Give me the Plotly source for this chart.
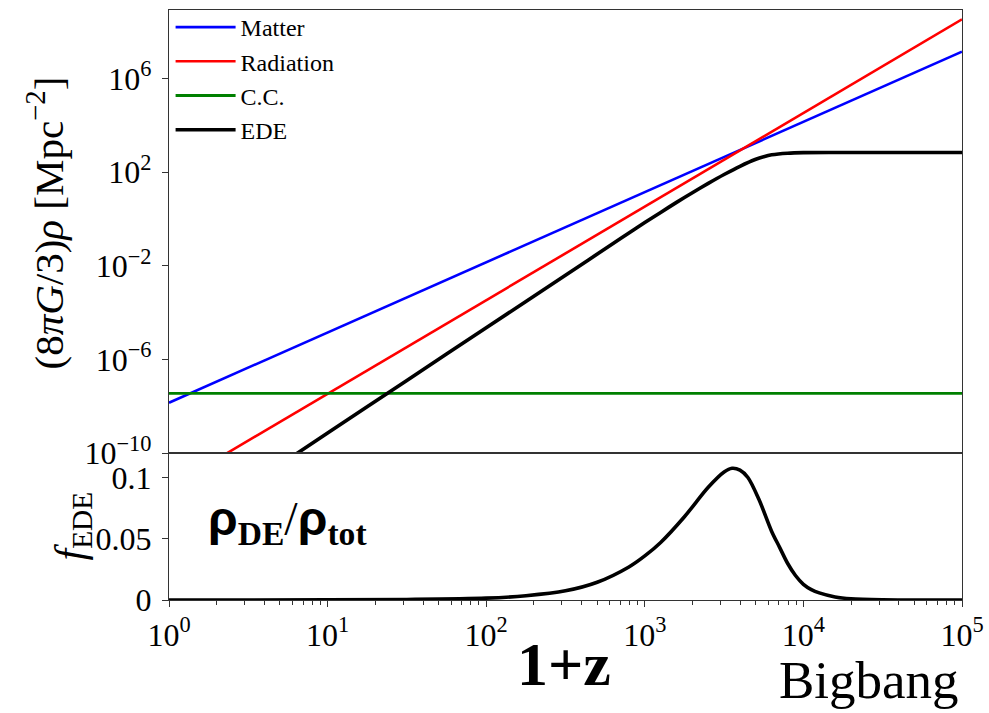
import plotly.graph_objects as go
from plotly.subplots import make_subplots

# ---- data -------------------------------------------------------------
# background densities (8πG/3)ρ in Mpc^-2 versus 1+z (power laws are straight on log-log axes)
z_ends = [1.0, 1.0e5]
matter_rho = [1.41e-8, 1.41e7]
radiation_rho = [3.39e-12, 3.39e8]
cc_rho = [3.55e-8, 3.55e-8]

# early dark energy density
ede_z = [5.01, 10.0, 31.6, 100.0, 316, 631, 794, 1000, 1259, 1585, 1995, 2512, 3162,
         3981, 5012, 5623, 6310, 7943, 10000, 19953, 100000]
ede_rho = [3.16e-11, 7.08e-10, 1.26e-7, 2.24e-5, 3.98e-3, 0.0891, 0.251, 0.708, 1.905,
           5.13, 13.2, 33.1, 79.4, 178, 355, 457, 550, 646, 684, 692, 692]

# fractional contribution f_EDE = ρ_DE / ρ_tot
f_z = [1.0, 10.0, 31.6, 100.0, 178, 316, 501, 794, 1000, 1259, 1778, 2512, 3162, 3548,
       3981, 4467, 5248, 6310, 7079, 7943, 8913, 10000, 11220, 12589, 15849, 19953,
       31623, 100000]
f_ede = [0.0, 0.0001, 0.0004, 0.0015, 0.0035, 0.0075, 0.0145, 0.027, 0.036, 0.047,
         0.068, 0.092, 0.1045, 0.1075, 0.106, 0.100, 0.082, 0.056, 0.043, 0.030,
         0.020, 0.0128, 0.0085, 0.0058, 0.0025, 0.0010, 0.0002, 0.0]

x_tickvals = [1, 10, 100, 1000, 10000, 100000]
x_ticktext = ["10<sup>0</sup>", "10<sup>1</sup>", "10<sup>2</sup>", "10<sup>3</sup>",
              "10<sup>4</sup>", "10<sup>5</sup>"]
y1_tickvals = [1e-10, 1e-6, 1e-2, 1e2, 1e6]
y1_ticktext = ["10<sup>−10</sup>", "10<sup>−6</sup>", "10<sup>−2</sup>",
               "10<sup>2</sup>", "10<sup>6</sup>"]
y2_tickvals = [0, 0.05, 0.1]
y2_ticktext = ["0", "0.05", "0.1"]

# ---- figure -----------------------------------------------------------
SERIF = "Liberation Serif"
SANS = "Liberation Sans"
AX = "#333333"

fig = make_subplots(rows=2, cols=1, shared_xaxes=True, vertical_spacing=0,
                    row_heights=[443 / 590, 147 / 590])

fig.add_trace(go.Scatter(x=z_ends, y=matter_rho, mode="lines", name="Matter",
                         legendgroup="m", line=dict(color="#0000ff", width=2.6)), row=1, col=1)
fig.add_trace(go.Scatter(x=z_ends, y=radiation_rho, mode="lines", name="Radiation",
                         legendgroup="r", line=dict(color="#ff0000", width=2.6)), row=1, col=1)
fig.add_trace(go.Scatter(x=z_ends, y=cc_rho, mode="lines", name="C.C.",
                         legendgroup="c", line=dict(color="#008000", width=2.8)), row=1, col=1)
fig.add_trace(go.Scatter(x=ede_z, y=ede_rho, mode="lines", name="EDE", legendgroup="e",
                         line=dict(color="#000000", width=3.6, shape="spline", smoothing=0.6)),
              row=1, col=1)
fig.add_trace(go.Scatter(x=f_z, y=f_ede, mode="lines", showlegend=False,
                         line=dict(color="#000000", width=3.6, shape="spline", smoothing=0.9)),
              row=2, col=1)

minor_vals = [k * 10 ** p for p in range(5) for k in range(2, 10)]

axis_common = dict(showline=True, linecolor=AX, linewidth=1.2, mirror=True,
                   showgrid=False, zeroline=False)

fig.update_xaxes(type="log", range=[0, 5], **axis_common)
fig.update_xaxes(row=1, col=1, showticklabels=False, ticks="")
fig.update_xaxes(row=2, col=1, tickmode="array", tickvals=x_tickvals, ticktext=x_ticktext,
                 ticks="outside", ticklen=6, tickwidth=1.2, tickcolor=AX,
                 tickfont=dict(family=SERIF, size=32, color="#000"),
                 minor=dict(tickmode="array", tickvals=minor_vals, ticks="outside",
                            ticklen=3.5, tickwidth=1, tickcolor=AX, showgrid=False))

fig.update_yaxes(row=1, col=1, type="log", range=[-10, 8.93], tickmode="array",
                 tickvals=y1_tickvals, ticktext=y1_ticktext, ticks="outside", ticklen=6,
                 tickwidth=1.2, tickcolor=AX, ticklabelstandoff=4,
                 tickfont=dict(family=SERIF, size=32, color="#000"), **axis_common)
fig.update_yaxes(row=2, col=1, range=[0, 0.12], tickmode="array",
                 tickvals=y2_tickvals, ticktext=y2_ticktext, ticks="outside", ticklen=6,
                 tickwidth=1.2, tickcolor=AX, ticklabelstandoff=4,
                 tickfont=dict(family=SERIF, size=32, color="#000"), **axis_common)

top_mid = (1 + 147 / 590) / 2
bot_mid = (147 / 590) / 2

annotations = [
    dict(text="(8<i>πG</i>/3)<i>ρ</i> [Mpc<sup>−2</sup>]", xref="paper", yref="paper",
         x=0, y=top_mid, xshift=-124, yshift=8, xanchor="center", yanchor="middle",
         textangle=-90, showarrow=False, font=dict(family=SERIF, size=41, color="#000")),
    dict(text="<i>f</i><sub>EDE</sub>", xref="paper", yref="paper",
         x=0, y=bot_mid, xshift=-97, xanchor="center", yanchor="middle",
         textangle=-90, showarrow=False, font=dict(family=SERIF, size=42, color="#000")),
    dict(text=(f'<b><span style="font-family:{SANS}">ρ</span><sub>DE</sub></b>/'
               f'<b><span style="font-family:{SANS}">ρ</span><sub>tot</sub></b>'),
         xref="paper", yref="paper", x=(287 - 169) / 793, y=(600 - 522) / 590,
         xanchor="center", yanchor="middle", showarrow=False,
         font=dict(family=SERIF, size=48, color="#000")),
    dict(text="<b>1+z</b>", xref="paper", yref="paper", x=(564 - 169) / 793,
         y=(600 - 664) / 590, xanchor="center", yanchor="middle", showarrow=False,
         font=dict(family=SERIF, size=62, color="#000")),
    dict(text="Bigbang", xref="paper", yref="paper", x=(961 - 169) / 793,
         y=(600 - 680) / 590, xanchor="right", yanchor="middle", showarrow=False,
         font=dict(family=SERIF, size=53, color="#000")),
]

fig.update_layout(
    width=989, height=713, autosize=False,
    margin=dict(l=169, r=27, t=10, b=113, pad=0, autoexpand=False),
    paper_bgcolor="white", plot_bgcolor="white",
    font=dict(family=SERIF, color="#000"),
    annotations=annotations,
    legend=dict(x=0.002, y=(600 - 5) / 590, xanchor="left", yanchor="top",
                bgcolor="rgba(0,0,0,0)", borderwidth=0, itemwidth=60,
                tracegroupgap=0, font=dict(family=SERIF, size=24, color="#000")),
)

fig.write_html("out.html")
